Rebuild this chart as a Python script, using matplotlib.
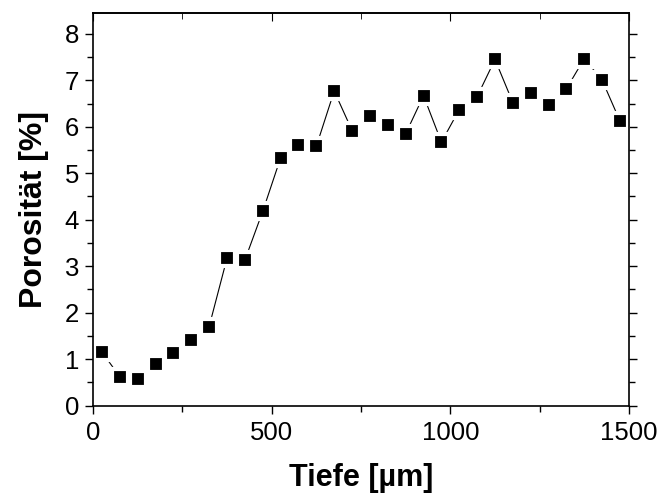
import matplotlib.pyplot as plt
import numpy as np
from matplotlib.ticker import MultipleLocator

# data
tiefe = np.arange(25, 1500, 50)  # 25, 75, ..., 1475
porositaet = [1.15, 0.62, 0.58, 0.90, 1.12, 1.40, 1.70, 3.17, 3.13, 4.18,
              5.33, 5.60, 5.58, 6.77, 5.92, 6.23, 6.03, 5.85, 6.67, 5.67,
              6.37, 6.65, 7.45, 6.52, 6.73, 6.48, 6.82, 7.47, 7.00, 6.12]

plt.rcParams['font.family'] = ['Liberation Sans', 'DejaVu Sans']

fig = plt.figure(figsize=(6.59, 4.93), dpi=100)
ax = fig.add_axes([93/659, 1 - 405.5/493, (629 - 93)/659, (405.5 - 13)/493])

# line below markers, markers with white rim so the line stops short of them
ax.plot(tiefe, porositaet, '-', color='black', lw=0.8, zorder=2.0)
ax.plot(tiefe, porositaet, 's', color='black', ms=11.6,
        mec='white', mew=3.0, zorder=2.2)

ax.set_xlim(0, 1500)
ax.set_ylim(0, 8.45)
ax.xaxis.set_major_locator(MultipleLocator(500))
ax.xaxis.set_minor_locator(MultipleLocator(250))
ax.yaxis.set_major_locator(MultipleLocator(1))
ax.yaxis.set_minor_locator(MultipleLocator(0.5))

# left/bottom/right ticks outward, top ticks inward
ax.tick_params(which='both', direction='out', width=1.0, labelsize=18.5,
               right=True, top=False)
ax.tick_params(which='major', length=6)
ax.tick_params(which='minor', length=4)
ax.tick_params(axis='x', pad=5)
ax.tick_params(axis='y', pad=4)

top = ax.secondary_xaxis('top')
top.xaxis.set_major_locator(MultipleLocator(500))
top.xaxis.set_minor_locator(MultipleLocator(250))
top.tick_params(which='both', direction='in', labeltop=False)
top.tick_params(which='major', length=6)
top.tick_params(which='minor', length=4)

for s in ax.spines.values():
    s.set_linewidth(1.2)
    s.set_zorder(3)
top.spines['top'].set_linewidth(1.2)

ax.set_xlabel('Tiefe [µm]', fontsize=22, fontweight='bold', labelpad=13)
ax.set_ylabel('Porosität [%]', fontsize=23, fontweight='bold', labelpad=11)

plt.savefig('out.png', dpi=100)
